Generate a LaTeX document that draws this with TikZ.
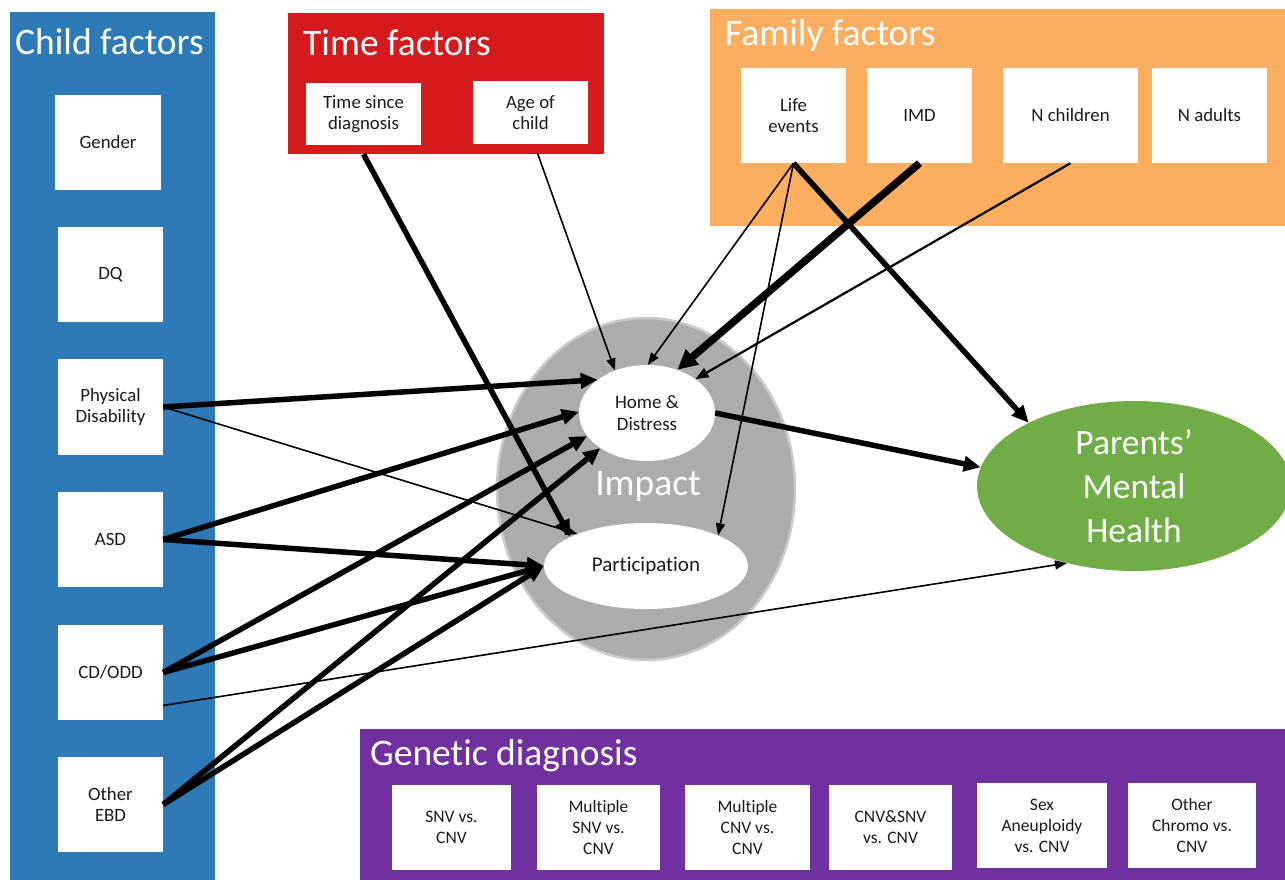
\documentclass[tikz,border=0pt]{standalone}
\usepackage{fontspec}
\setmainfont{Carlito}[Ligatures=NoCommon]
\usetikzlibrary{arrows.meta,shapes.geometric,calc}
\definecolor{cblue}{HTML}{2E7AB7}
\definecolor{cred}{HTML}{D51A1E}
\definecolor{corange}{HTML}{FBAE60}
\definecolor{cpurple}{HTML}{7030A0}
\definecolor{cgreen}{HTML}{70AD47}
\definecolor{cgray}{HTML}{AEABAB}
\definecolor{cgrayb}{HTML}{CACACA}
\definecolor{ctext}{HTML}{1A1A1A}
\begin{document}
\begin{tikzpicture}[x=1pt,y=-1pt,
  panel/.style={fill=#1, draw=none},
  ptitle/.style={text=white, anchor=west, inner sep=0pt, font=\fontsize{37.5}{42}\selectfont},
  fbox/.style={fill=white, draw=none, inner sep=0pt, align=center, text=ctext, font=\fontsize{18.8}{21.5}\selectfont},
  gbox/.style={fill=white, draw=none, inner sep=0pt, align=center, text=ctext, font=\fontsize{17.5}{21}\selectfont},
  thickarr/.style={line width=5.5pt, -{Triangle[length=17pt,width=15pt]}},
  vthickarr/.style={line width=7.5pt, -{Triangle[length=20pt,width=19pt]}},
  thinarr/.style={line width=1.6pt, -{Triangle[length=12pt,width=9pt]}},
  medarr/.style={line width=2.2pt, -{Triangle[length=13pt,width=10pt]}}
]
\useasboundingbox (0,0) rectangle (1285,880);
\fill[white] (0,0) rectangle (1285,880);

% panels
\fill[panel=cblue] (10,12) rectangle (215,880);
\node[ptitle] (tchild) at (15,42) {Child factors};
\fill[panel=cred] (288,13) rectangle (604,154);
\node[ptitle] (ttime) at (303,43) {Time factors};
\fill[panel=corange] (710,9) rectangle (1285,226);
\node[ptitle] (tfam) at (725,36) {Family factors};
\fill[panel=cpurple] (360,729) rectangle (1285,880);
\node[ptitle] (tgen) at (370,756) {Genetic diagnosis};

% child boxes
\node[fbox, minimum width=106pt, minimum height=95pt] (gender) at (108,142.5) {Gender};
\node[fbox, minimum width=105pt, minimum height=95pt] (dq) at (110.5,274.5) {DQ};
\node[fbox, minimum width=105pt, minimum height=96pt] (pd) at (110.5,407) {Physical\\Disability};
\node[fbox, minimum width=105pt, minimum height=95pt] (asd) at (110.5,539.5) {ASD};
\node[fbox, minimum width=105pt, minimum height=95pt] (cd) at (110.5,672.5) {CD/ODD};
\node[fbox, minimum width=105pt, minimum height=95pt] (ebd) at (110.5,804.5) {Other\\EBD};

% time boxes
\node[fbox, minimum width=115pt, minimum height=62pt] (tsd) at (363.5,114) {Time since\\diagnosis};
\node[fbox, minimum width=115pt, minimum height=63pt] (age) at (530.5,112.5) {Age of\\child};

% family boxes
\node[fbox, minimum width=105pt, minimum height=95pt] (le) at (793.5,115.5) {Life\\events};
\node[fbox, minimum width=105pt, minimum height=95pt] (imd) at (919.5,115.5) {IMD};
\node[fbox, minimum width=135pt, minimum height=95pt] (nc) at (1070.5,115.5) {N children};
\node[fbox, minimum width=115pt, minimum height=95pt] (na) at (1209.5,115.5) {N adults};

% genetic boxes
\node[gbox, minimum width=119pt, minimum height=85pt] (g1) at (451.5,827.5) {SNV vs.\\CNV};
\node[gbox, minimum width=123pt, minimum height=85pt] (g2) at (598.5,827.5) {Multiple\\SNV vs.\\CNV};
\node[gbox, minimum width=125pt, minimum height=85pt] (g3) at (747.5,827.5) {Multiple\\CNV vs.\\CNV};
\node[gbox, minimum width=123pt, minimum height=85pt] (g4) at (890.5,827.5) {CNV\&SNV\\vs. CNV};
\node[gbox, minimum width=130pt, minimum height=85pt] (g5) at (1042,825.5) {Sex\\Aneuploidy\\vs. CNV};
\node[gbox, minimum width=128pt, minimum height=85pt] (g6) at (1192,825.5) {Other\\Chromo vs.\\CNV};

% impact
\node[ellipse, fill=cgray, draw=cgrayb, line width=2.5pt, minimum width=298pt, minimum height=342pt, inner sep=0pt] (impact) at (646,489) {};
\node[text=white, font=\fontsize{37.5}{42}\selectfont, inner sep=0pt] (impt) at (648,486) {Impact};
\node[ellipse, fill=white, minimum width=136pt, minimum height=96pt, inner sep=0pt, align=center, text=ctext, font=\fontsize{19}{22}\selectfont] (home) at (647,413) {Home \&\\Distress};
\node[ellipse, fill=white, minimum width=204pt, minimum height=86pt, inner sep=0pt, text=ctext, font=\fontsize{21}{24}\selectfont] (part) at (646,566) {Participation};

% parents
\node[ellipse, fill=cgreen, minimum width=314pt, minimum height=170pt, inner sep=0pt, align=center, text=white, font=\fontsize{35.5}{44}\selectfont] (par) at (1134,486) {Parents’\\Mental\\Health};

% arrows
\draw[thickarr] ([yshift=-9pt]tsd.south) -- (part.159);
\draw[thinarr] ([xshift=7pt,yshift=-9pt]age.south) -- (home.127);
\draw[thinarr] (le.south) -- (home.89);
\draw[thinarr] (le.south) -- (part.23);
\draw[thickarr] (le.south) -- (par.149.5);
\draw[vthickarr] (imd.south) -- (home.55);
\draw[medarr] (nc.south) -- (home.35);
\draw[thickarr] (pd.east) -- (home.146);
\draw[thinarr] (pd.east) -- (part.155);
\draw[thickarr] (asd.east) -- (home.179);
\draw[thickarr] (asd.east) -- (part.west);
\draw[thickarr] (cd.east) -- (home.201);
\draw[thickarr] (cd.east) -- (part.west);
\draw[thinarr] ([yshift=-33pt]cd.east) -- (par.229);
\draw[thickarr] (ebd.east) -- (home.217);
\draw[thickarr] (ebd.east) -- (part.west);
\draw[thickarr] (home.east) -- (par.173);
\end{tikzpicture}
\end{document}
